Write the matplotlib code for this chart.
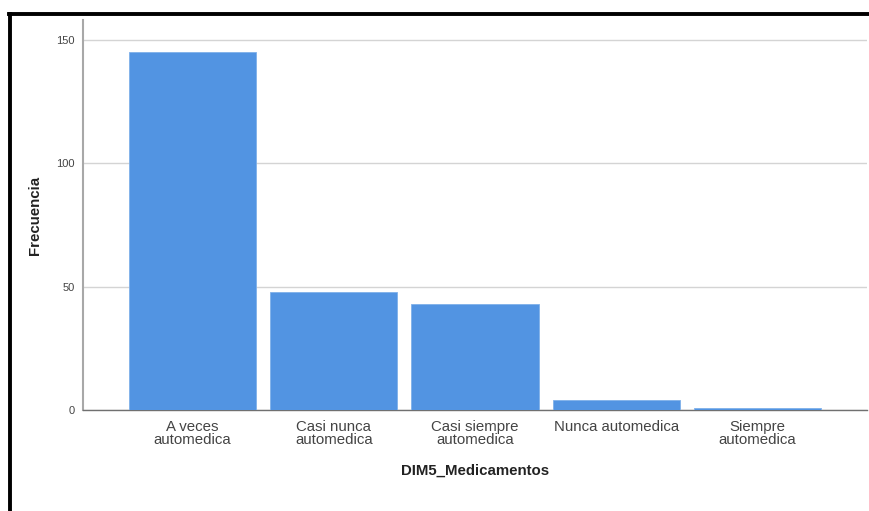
import matplotlib
matplotlib.use("Agg")
import matplotlib.pyplot as plt
from matplotlib.lines import Line2D

plt.rcParams['font.family'] = ['Liberation Sans', 'DejaVu Sans']

categories = ["A veces\nautomedica", "Casi nunca\nautomedica", "Casi siempre\nautomedica",
              "Nunca automedica", "Siempre\nautomedica"]
values = [145, 48, 43, 4, 1]
yticks = [0, 50, 100, 150]

fig = plt.figure(figsize=(8.69, 5.11), dpi=100)
ax = fig.add_axes([83/869, 101/511, 784/869, 390/511])

x = list(range(len(categories)))
ax.bar(x, values, width=0.9, color="#5294E2", edgecolor="#7fb0ea", linewidth=0.6, zorder=3)
ax.set_xlim(-0.775, 4.775)
ax.set_ylim(0, 158)
ax.set_yticks(yticks)
ax.set_yticklabels([str(t) for t in yticks], fontsize=8, color="#444444")
ax.set_xticks(x)
ax.set_xticklabels(categories, fontsize=10.8, color="#444444", linespacing=0.9)
ax.tick_params(axis='x', length=0, pad=7)
ax.tick_params(axis='y', length=0, pad=6)
ax.yaxis.grid(True, color="#d4d4d4", linewidth=1.0, zorder=0)
for s in ["top", "right"]:
    ax.spines[s].set_visible(False)
ax.spines["left"].set_color("#a8a8a8")
ax.spines["left"].set_linewidth(1.5)
ax.spines["bottom"].set_color("#707070")
ax.spines["bottom"].set_linewidth(1.0)
ax.set_xlabel("DIM5_Medicamentos", fontsize=10.8, fontweight="bold", color="#222222", labelpad=12)
ax.set_ylabel("Frecuencia", fontsize=10.8, fontweight="bold", color="#222222")
ax.yaxis.set_label_coords(-0.052, 0.5)

# black frame lines
fig.add_artist(Line2D([9/869, 868/869], [1 - 14.5/511, 1 - 14.5/511], transform=fig.transFigure,
                      color="black", linewidth=2.8))
fig.add_artist(Line2D([9.5/869, 9.5/869], [0, 1 - 14.5/511], transform=fig.transFigure,
                      color="black", linewidth=2.8))

fig.savefig("out.png", dpi=100)
